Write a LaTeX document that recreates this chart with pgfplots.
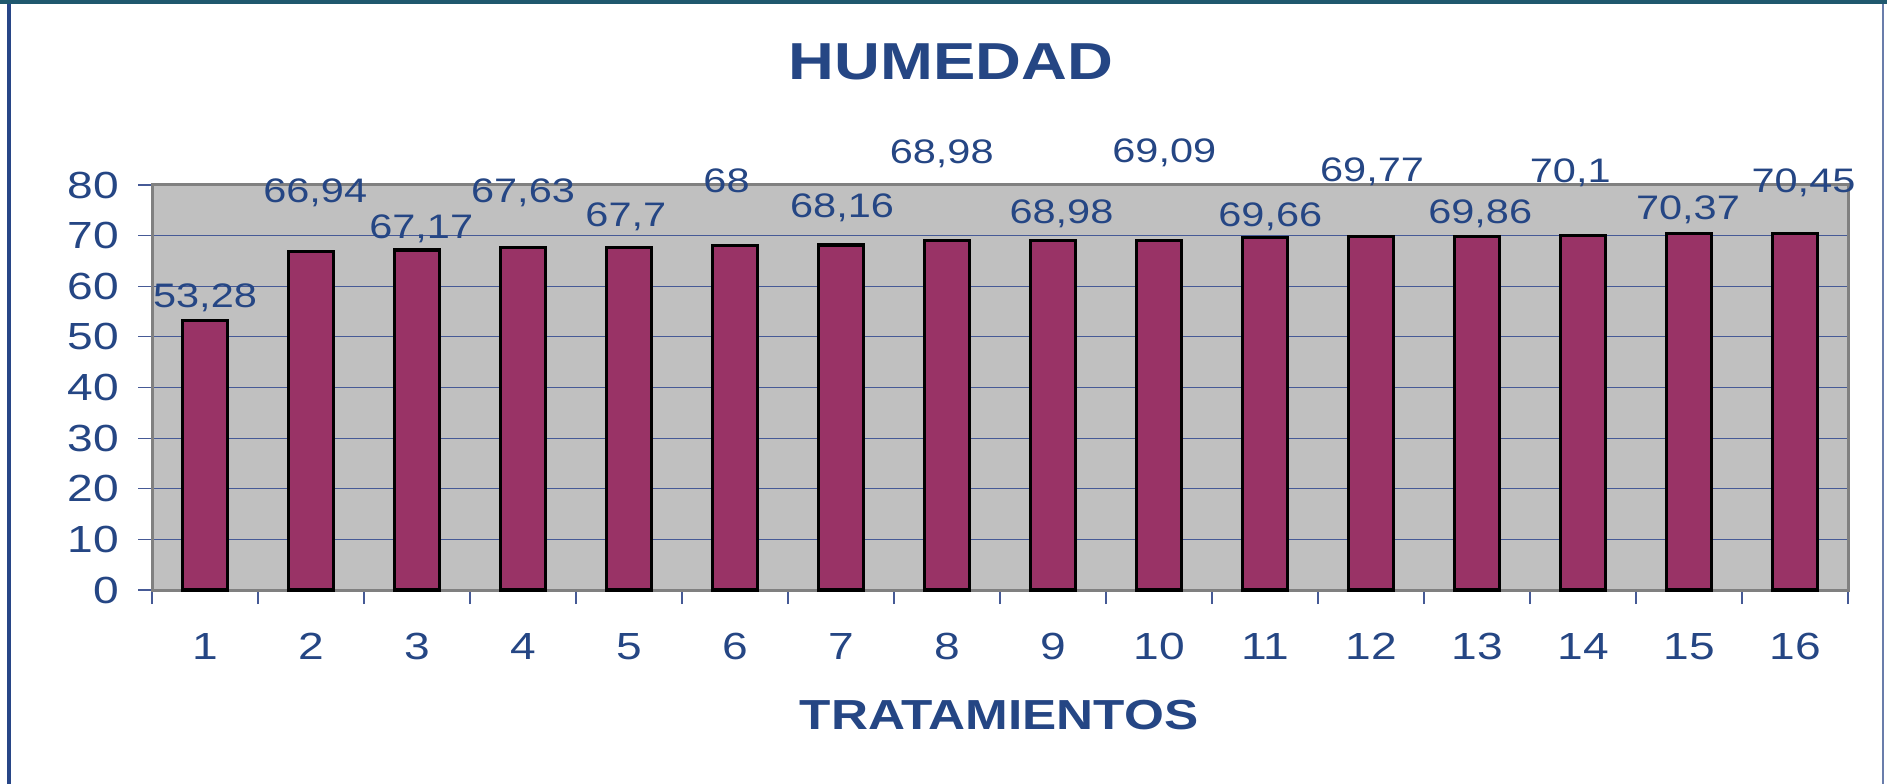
\documentclass[border=0pt]{standalone}
\usepackage{fontspec}
\setmainfont{Liberation Sans}[FakeStretch=1.22]
\usepackage{pgfplots}
\usepackage{pgfplotstable}
\pgfplotsset{compat=1.18}

\definecolor{txtblue}{RGB}{37,70,132}
\definecolor{barcol}{RGB}{153,51,102}
\definecolor{gridblue}{RGB}{70,90,150}
\definecolor{plotgray}{RGB}{192,192,192}
\definecolor{edgegray}{RGB}{128,128,128}
\definecolor{frametop}{RGB}{31,88,110}
\definecolor{frameside}{RGB}{40,70,135}

% x, valor, posicion de la etiqueta (lx, ly), etiqueta
\pgfplotstableread{
x  y      lx     ly    lbl
1  53.28  1.00   57.7  53,28
2  66.94  2.04   78.4  66,94
3  67.17  3.04   71.3  67,17
4  67.63  4.00   78.4  67,63
5  67.70  4.97   73.7  67,7
6  68.00  5.92   80.8  68
7  68.16  7.01   75.4  68,16
8  68.98  7.95   86.1  68,98
9  68.98  9.08   74.3  68,98
10 69.09  10.05  86.3  69,09
11 69.66  11.05  73.7  69,66
12 69.77  12.01  82.6  69,77
13 69.86  13.03  74.3  69,86
14 70.10  13.88  82.4  70,1
15 70.37  14.99  75.1  70,37
16 70.45  16.08  80.4  70,45
}\humedad

\begin{document}
\begin{tikzpicture}
% fondo y marco
\fill[white] (-76bp,-97bp) rectangle (867.5bp,295bp);
\fill[frametop] (-76bp,293bp) rectangle (867.5bp,295bp);
\fill[frameside] (-72.5bp,-97bp) rectangle (-70.5bp,293bp);
\fill[frameside!70] (865bp,-97bp) rectangle (866bp,293bp);

\begin{axis}[
    at={(0,0)}, anchor=south west,
    scale only axis,
    width=848bp, height=202.5bp,
    xmin=0.5, xmax=16.5,
    ymin=0, ymax=80,
    ytick={0,10,...,80},
    xtick={0.5,1.5,...,16.5},
    x tick label as interval,
    xticklabels={1,...,16},
    tick pos=left,
    tick style={draw=gridblue, line width=0.6bp},
    tick align=outside,
    major tick length=7bp,
    ymajorgrids,
    grid style={gridblue, line width=0.5bp},
    axis background/.style={fill=plotgray},
    axis line style={edgegray, line width=1.5bp},
    /pgf/number format/assume math mode=true,
    ticklabel style={font=\fontsize{18.9bp}{20bp}\selectfont, text=txtblue},
    xticklabel style={yshift=-11bp},
    yticklabel style={xshift=-6bp},
    clip=false,
]
\addplot[ybar, bar width=0.42, fill=barcol, draw=black, line width=1.6bp]
    table[x=x, y=y] {\humedad};
\addplot[draw=none, mark=none, nodes near coords, point meta=explicit symbolic,
    nodes near coords style={anchor=center, inner sep=0pt,
        font=\fontsize{17bp}{18bp}\selectfont, text=txtblue}]
    table[x=lx, y=ly, meta=lbl] {\humedad};
\end{axis}

\node[font=\bfseries\fontsize{26bp}{28bp}\selectfont, text=txtblue] at (399.5bp,264bp) {HUMEDAD};
\node[font=\bfseries\fontsize{21bp}{23bp}\selectfont, text=txtblue] at (423.5bp,-62.5bp) {TRATAMIENTOS};
\end{tikzpicture}
\end{document}
